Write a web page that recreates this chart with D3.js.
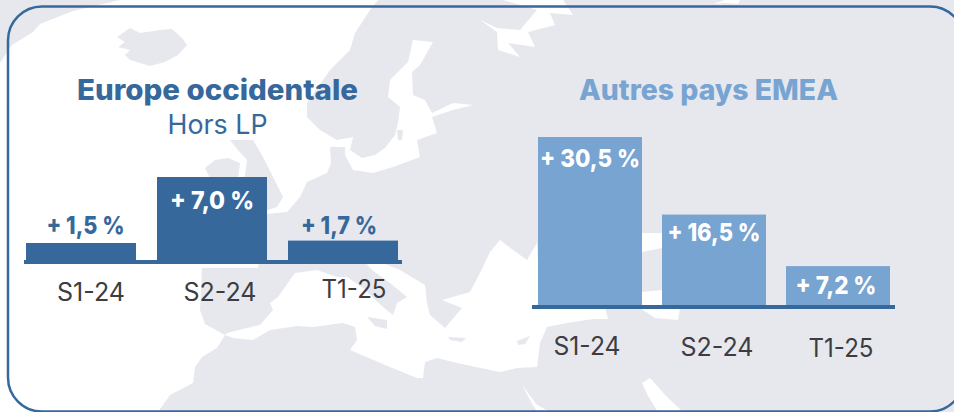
<!DOCTYPE html>
<html><head><meta charset="utf-8">
<script src="https://cdn.jsdelivr.net/npm/d3@7"></script>
<style>html,body{margin:0;padding:0;background:#fff}svg{display:block;font-family:Inter,sans-serif}</style>
</head><body><svg id="c" width="954" height="412"></svg>
<script>
// data
const periodsLeft = ["S1-24", "S2-24", "T1-25"];
const valuesLeft = [1.5, 7.0, 1.7];
const labelsLeft = ["+ 1,5 %", "+ 7,0 %", "+ 1,7 %"];
const periodsRight = ["S1-24", "S2-24", "T1-25"];
const valuesRight = [30.5, 16.5, 7.2];
const labelsRight = ["+ 30,5 %", "+ 16,5 %", "+ 7,2 %"];

const BLUE = "#36689c", LIGHT = "#78a4d2", LAND = "#e7e8ee", INK = "#3d3d3f";

// decorative background map: sea shapes on land, then islands on sea
const seas = [
 [[120,0],[73,11],[40,24],[33,32],[12,45],[0,63],[0,412],[158,412],[170,395],[193,383],[195,367],[202,357],[217,348],[225,335],[205,324],[200,310],[202,268],[258,268],[267,214],[287,212],[300,197],[307,182],[327,173],[331,163],[330,147],[345,147],[345,155],[350,150],[353,137],[337,140],[320,130],[307,117],[307,103],[330,70],[350,50],[355,33],[370,10],[378,0]],
 [[225,335],[233,338],[253,340],[270,330],[297,326],[313,327],[343,323],[355,327],[357,340],[350,350],[390,367],[417,378],[423,378],[425,362],[437,358],[457,363],[500,372],[517,368],[537,367],[540,343],[547,327],[567,323],[593,319],[608,319],[605,308],[540,308],[537,243],[527,260],[513,250],[500,240],[490,252],[480,273],[470,292],[442,300],[462,308],[445,328],[430,315],[427,303],[425,285],[400,270],[385,264],[365,262],[372,270],[390,283],[407,297],[397,303],[393,315],[383,307],[363,288],[347,277],[337,277],[317,270],[295,273],[278,297],[270,303],[273,310],[260,325],[247,328],[227,333]],
 [[413,40],[433,42],[420,65],[412,72],[413,95],[425,100],[432,113],[453,103],[473,105],[453,110],[432,117],[437,133],[417,140],[420,157],[393,167],[373,173],[353,170],[345,155],[350,150],[362,158],[375,155],[385,148],[395,135],[398,123],[400,107],[388,97],[390,80],[408,62]],
 [[642,233],[662,233],[662,248],[642,252]],
 [[642,292],[662,290],[680,308],[678,320],[655,318],[640,308]],
 [[522,385],[537,405],[550,412],[537,412],[530,400]],
 [[642,383],[650,378],[667,397],[683,412],[658,412],[648,396]],
 [[480,20],[497,28],[520,30],[537,10],[503,0],[563,0],[573,15],[550,13],[555,25],[528,32],[535,47],[508,43],[520,57],[498,50],[497,32]],
 [[713,4],[725,0],[740,0],[738,4],[725,3]]
];
const islands = [
 [[117,37],[130,28],[140,33],[160,30],[172,29],[182,38],[187,45],[178,55],[165,62],[150,66],[130,60],[125,55],[130,50],[118,47],[125,42]],
 [[205,168],[215,160],[228,158],[240,163],[238,178],[225,190],[205,190],[210,178]],
 [[230,140],[253,140],[263,157],[272,175],[283,197],[277,207],[262,212],[240,214],[240,185],[245,175],[247,160],[238,150]],
 [[367,317],[387,320],[387,329],[375,326]],
 [[448,337],[466,338],[462,342],[450,340]],
 [[517,341],[530,336],[525,344],[518,345]],
 [[397,130],[403,130],[402,140],[398,140]]
];

const svg = d3.select("#c");
svg.append("defs").append("filter").attr("id","soft").append("feGaussianBlur").attr("stdDeviation",0.7);
const path = d3.line();
const map = svg.append("g");
map.append("rect").attr("width",954).attr("height",412).attr("fill",LAND);
const shapes = map.append("g").attr("filter","url(#soft)");
shapes.selectAll("path.sea").data(seas).join("path").attr("class","sea").attr("d",d=>path(d)+"Z").attr("fill","#fff");
shapes.selectAll("path.isl").data(islands).join("path").attr("class","isl").attr("d",d=>path(d)+"Z").attr("fill",LAND);

svg.append("rect").attr("x",8).attr("y",6.5).attr("width",956).attr("height",405)
  .attr("rx",34).attr("fill","none").attr("stroke",BLUE).attr("stroke-width",2.5);

function fit(sel, w){ sel.attr("textLength",w).attr("lengthAdjust","spacingAndGlyphs"); }

function panel(o){
  const x = d3.scaleBand().domain(o.periods).range(o.xr).paddingInner(o.pad);
  const y = d3.scaleLinear().domain([0,o.vmax]).range([o.base,o.top]);
  const g = svg.append("g");
  g.selectAll("rect").data(o.values).join("rect")
    .attr("x",(d,i)=>x(o.periods[i])).attr("width",x.bandwidth())
    .attr("y",d=>y(d)).attr("height",d=>y(0)-y(d)).attr("fill",o.color);
  g.append("line").attr("x1",o.ax[0]).attr("x2",o.ax[1]).attr("y1",o.axisY).attr("y2",o.axisY)
    .attr("stroke",BLUE).attr("stroke-width",4);
  const axis = g.append("g").attr("transform",`translate(0,${o.axisY})`)
    .call(d3.axisBottom(x).tickSize(0));
  axis.select(".domain").remove();
  axis.selectAll("text").attr("font-family","Inter, sans-serif").attr("font-size",o.tickSize)
    .attr("fill",INK).attr("y",0).attr("dy",0)
    .attr("x",(d,i)=>o.tickDx[i]).attr("transform",(d,i)=>`translate(0,${o.tickBase[i]-o.axisY})`)
    .attr("textLength",(d,i)=>o.tickW[i]).attr("lengthAdjust","spacingAndGlyphs");
  g.selectAll("text.val").data(o.labels).join("text").attr("class","val")
    .attr("x",(d,i)=>x(o.periods[i])+x.bandwidth()/2+o.valDx[i])
    .attr("y",(d,i)=>o.valBase[i]).attr("text-anchor","middle")
    .attr("font-size",o.valSize).attr("font-weight",800)
    .attr("textLength",(d,i)=>o.valW[i]).attr("lengthAdjust","spacingAndGlyphs")
    .attr("fill",(d,i)=>o.valFill[i]).text(d=>d);
  fit(g.append("text").attr("x",o.tx).attr("y",100).attr("text-anchor","middle")
    .attr("font-size",28).attr("font-weight",800).attr("fill",o.color).text(o.title), o.titleW);
  if(o.sub) fit(g.append("text").attr("x",o.tx).attr("y",134).attr("text-anchor","middle")
    .attr("font-size",27).attr("fill",BLUE).text(o.sub), o.subW);
}
panel({periods:periodsLeft,values:valuesLeft,labels:labelsLeft,xr:[26,398],pad:21/131,vmax:7,base:261,top:177,
  ax:[24,402],axisY:262,color:BLUE,title:"Europe occidentale",titleW:281,sub:"Hors LP",subW:100,tx:217.5,tickSize:25,
  tickDx:[10,8,11],tickW:[68,73,65],tickBase:[301,301,298],valDx:[4.5,0,-4],valW:[78,84,76],valBase:[234,209,234],valSize:25,
  valFill:[BLUE,"#fff",BLUE]});
panel({periods:periodsRight,values:valuesRight,labels:labelsRight,xr:[538,890],pad:20/124,vmax:30.5,base:306,top:137,
  ax:[532,895],axisY:307,color:LIGHT,title:"Autres pays EMEA",titleW:259,tx:708.5,tickSize:25,
  tickDx:[-3,3,3],tickW:[67,73,65],tickBase:[355,356,357],valDx:[0,0,-2],valW:[100,93,81],valBase:[167,241,294],valSize:25,
  valFill:["#fff","#fff","#fff"]});
</script></body></html>
